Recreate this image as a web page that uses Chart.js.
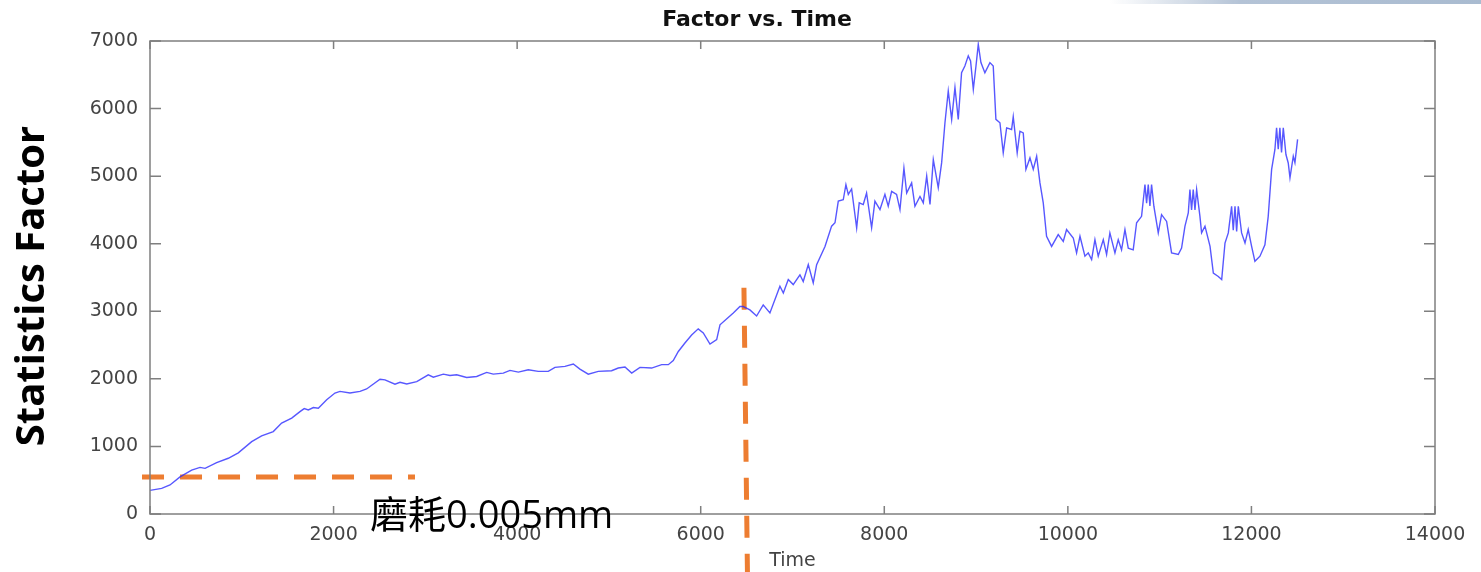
<!DOCTYPE html>
<html>
<head>
<meta charset="utf-8">
<script src="https://cdn.jsdelivr.net/npm/chart.js@4.4.1/dist/chart.umd.min.js"></script>
<style>
  html, body { margin: 0; padding: 0; background: #fff; }
  #wrap { position: relative; width: 1481px; height: 572px; }
  #swoosh { position: absolute; left: 1110px; top: 0; width: 371px; height: 4px;
    background: linear-gradient(to right, rgba(174,191,211,0), #b4c3d6 35%, #a9bbd0); }
</style>
</head>
<body>
<div id="wrap">
  <canvas id="factorChart" width="1481" height="572"></canvas>
  <div id="swoosh"></div>
</div>
<script>
  // sample times and statistics factor
  const timeSec = [0, 127, 218, 327, 454, 545, 600, 726, 853, 962, 1108, 1216, 1343, 1434, 1544, 1634, 1680, 1725, 1780, 1834,
    1925, 2015, 2070, 2179, 2288, 2360, 2506, 2560, 2669, 2724, 2797, 2906, 3032, 3087, 3196, 3268, 3341, 3450, 3559, 3668,
    3740, 3849, 3922, 4013, 4121, 4230, 4339, 4412, 4521, 4612, 4684, 4775, 4884, 5029, 5102, 5175, 5248, 5338, 5465, 5575,
    5647, 5701, 5756, 5828, 5901, 5973, 6028, 6101, 6174, 6210, 6355, 6427, 6463, 6536, 6609, 6681, 6754, 6863, 6900, 6954,
    7008, 7081, 7117, 7172, 7226, 7263, 7354, 7426, 7463, 7499, 7553, 7582, 7608, 7644, 7699, 7727, 7771, 7807, 7862, 7898,
    7953, 8007, 8043, 8080, 8134, 8171, 8214, 8244, 8298, 8334, 8389, 8425, 8462, 8498, 8534, 8588, 8625, 8661, 8697, 8734,
    8770, 8806, 8842, 8878, 8915, 8940, 8970, 8999, 9024, 9053, 9096, 9151, 9187, 9216, 9260, 9296, 9333, 9387, 9405, 9448,
    9478, 9514, 9543, 9587, 9623, 9660, 9696, 9732, 9768, 9823, 9895, 9950, 9986, 10059, 10095, 10132, 10186, 10222, 10259, 10295,
    10331, 10386, 10422, 10458, 10513, 10549, 10585, 10622, 10658, 10712, 10749, 10803, 10840, 10858, 10876, 10894, 10912, 10937, 10985, 11021,
    11076, 11130, 11203, 11239, 11276, 11312, 11330, 11348, 11366, 11385, 11403, 11439, 11457, 11494, 11549, 11585, 11639, 11676, 11712, 11748,
    11784, 11802, 11821, 11839, 11857, 11893, 11930, 11965, 12002, 12038, 12093, 12147, 12183, 12220, 12256, 12274, 12292, 12310, 12328, 12347,
    12376, 12401, 12420, 12456, 12474, 12503];
  const factorVals = [350, 380, 430, 550, 650, 690, 675, 760, 825, 905, 1070, 1155, 1220, 1345, 1420, 1515, 1560, 1540, 1575, 1565,
    1690, 1790, 1815, 1790, 1815, 1850, 1995, 1985, 1920, 1950, 1925, 1960, 2060, 2025, 2070, 2050, 2060, 2020, 2035, 2095,
    2070, 2085, 2125, 2100, 2135, 2110, 2110, 2170, 2185, 2220, 2145, 2070, 2110, 2120, 2160, 2175, 2085, 2170, 2160, 2210,
    2210, 2270, 2405, 2530, 2650, 2740, 2680, 2515, 2580, 2800, 2975, 3070, 3070, 3020, 2930, 3095, 2975, 3370, 3270, 3470,
    3395, 3540, 3440, 3690, 3420, 3690, 3960, 4260, 4310, 4630, 4650, 4875, 4730, 4810, 4235, 4605, 4580, 4750, 4235, 4630,
    4505, 4730, 4555, 4775, 4730, 4505, 5120, 4750, 4900, 4555, 4700, 4605, 5000, 4580, 5245, 4830, 5200, 5790, 6260, 5840,
    6310, 5840, 6530, 6630, 6780, 6705, 6285, 6630, 6950, 6680, 6530, 6680, 6630, 5840, 5790, 5345, 5715, 5690, 5880, 5345,
    5665, 5640, 5100, 5270, 5100, 5295, 4900, 4605, 4110, 3960, 4135, 4035, 4210, 4085, 3865, 4110, 3815, 3865, 3765, 4060,
    3815, 4060, 3840, 4160, 3865, 4060, 3910, 4210, 3935, 3910, 4310, 4405, 4875, 4600, 4875, 4560, 4875, 4555, 4160, 4430,
    4330, 3865, 3840, 3935, 4260, 4455, 4800, 4500, 4800, 4500, 4800, 4405, 4160, 4260, 3960, 3565, 3515, 3470, 4010, 4160,
    4555, 4200, 4555, 4180, 4555, 4160, 4010, 4210, 3960, 3740, 3815, 3985, 4405, 5100, 5395, 5715, 5400, 5715, 5350, 5715,
    5320, 5195, 4975, 5295, 5200, 5545];

  // orange dashed markers drawn on top of the plot
  const wearLineX = [-87, 2887];
  const wearLineY = [548, 548];
  const cutLineX = [6471, 6509];
  const cutLineY = [3349, -860];

  const xTickStep = 2000, xMax = 14000;
  const yTickStep = 1000, yMax = 7000;

  const axisGray = "#7f7f7f";
  const labelGray = "#444";

  function toPoints(xs, ys) {
    return xs.map((x, i) => ({ x: x, y: ys[i] }));
  }

  // matlab style box with ticks pointing inwards, plus overlay texts
  const boxPlugin = {
    id: "boxPlugin",
    afterDatasetsDraw(chart) {
      const { ctx, chartArea: a, scales } = chart;
      ctx.save();
      ctx.strokeStyle = axisGray;
      ctx.lineWidth = 1.5;
      ctx.strokeRect(a.left, a.top, a.right - a.left, a.bottom - a.top);
      ctx.beginPath();
      scales.x.ticks.forEach(t => {
        const px = scales.x.getPixelForValue(t.value);
        ctx.moveTo(px, a.bottom); ctx.lineTo(px, a.bottom - 8);
        ctx.moveTo(px, a.top); ctx.lineTo(px, a.top + 8);
      });
      scales.y.ticks.forEach(t => {
        const py = scales.y.getPixelForValue(t.value);
        ctx.moveTo(a.left, py); ctx.lineTo(a.left + 11, py);
        ctx.moveTo(a.right, py); ctx.lineTo(a.right - 11, py);
      });
      ctx.stroke();
      ctx.restore();
    },
    afterDraw(chart) {
      const ctx = chart.ctx;
      ctx.save();
      ctx.fillStyle = "#111";
      ctx.font = "bold 22px 'DejaVu Sans'";
      ctx.textAlign = "center";
      ctx.textBaseline = "middle";
      ctx.fillText("Factor vs. Time", 757, 20);

      ctx.fillStyle = "#000";
      ctx.translate(33, 286);
      ctx.rotate(-Math.PI / 2);
      ctx.font = "bold 40px 'Open Sans'";
      ctx.fillText("Statistics Factor", 0, 0);
      ctx.restore();

      ctx.save();
      ctx.fillStyle = "#000";
      ctx.font = "38px 'Open Sans', 'Noto Sans CJK TC'";
      ctx.textAlign = "left";
      ctx.textBaseline = "alphabetic";
      ctx.fillText("磨耗0.005mm", 370, 528);
      ctx.restore();
    }
  };

  const ctx = document.getElementById("factorChart").getContext("2d");
  new Chart(ctx, {
    type: "line",
    data: {
      datasets: [
        {
          label: "Factor",
          data: toPoints(timeSec, factorVals),
          borderColor: "rgba(45,45,255,0.8)",
          borderWidth: 1.4,
          pointRadius: 0,
          tension: 0
        },
        {
          label: "wear",
          data: toPoints(wearLineX, wearLineY),
          borderColor: "#ED7D31",
          borderWidth: 5,
          borderDash: [22, 16],
          pointRadius: 0,
          clip: false
        },
        {
          label: "cut",
          data: toPoints(cutLineX, cutLineY),
          borderColor: "#ED7D31",
          borderWidth: 5,
          borderDash: [22, 16],
          pointRadius: 0,
          clip: false
        }
      ]
    },
    options: {
      responsive: false,
      animation: false,
      layout: { padding: { left: 0, right: 46, top: 41, bottom: 0 } },
      plugins: {
        legend: { display: false },
        title: { display: false },
        tooltip: { enabled: false }
      },
      scales: {
        x: {
          type: "linear",
          min: 0,
          max: xMax,
          afterFit: s => { s.height = 58; },
          border: { display: false },
          grid: { display: false, drawTicks: false },
          ticks: {
            stepSize: xTickStep,
            maxRotation: 0,
            padding: 10,
            color: labelGray,
            font: { family: "DejaVu Sans", size: 19 },
            callback: v => String(v)
          },
          title: {
            display: true,
            text: "Time",
            color: labelGray,
            padding: 0,
            font: { family: "DejaVu Sans", size: 19 }
          }
        },
        y: {
          min: 0,
          max: yMax,
          afterFit: s => { s.width = 150; },
          border: { display: false },
          grid: { display: false, drawTicks: false },
          ticks: {
            stepSize: yTickStep,
            padding: 12,
            color: labelGray,
            font: { family: "DejaVu Sans", size: 19 },
            callback: v => String(v)
          }
        }
      }
    },
    plugins: [boxPlugin]
  });
</script>
</body>
</html>
